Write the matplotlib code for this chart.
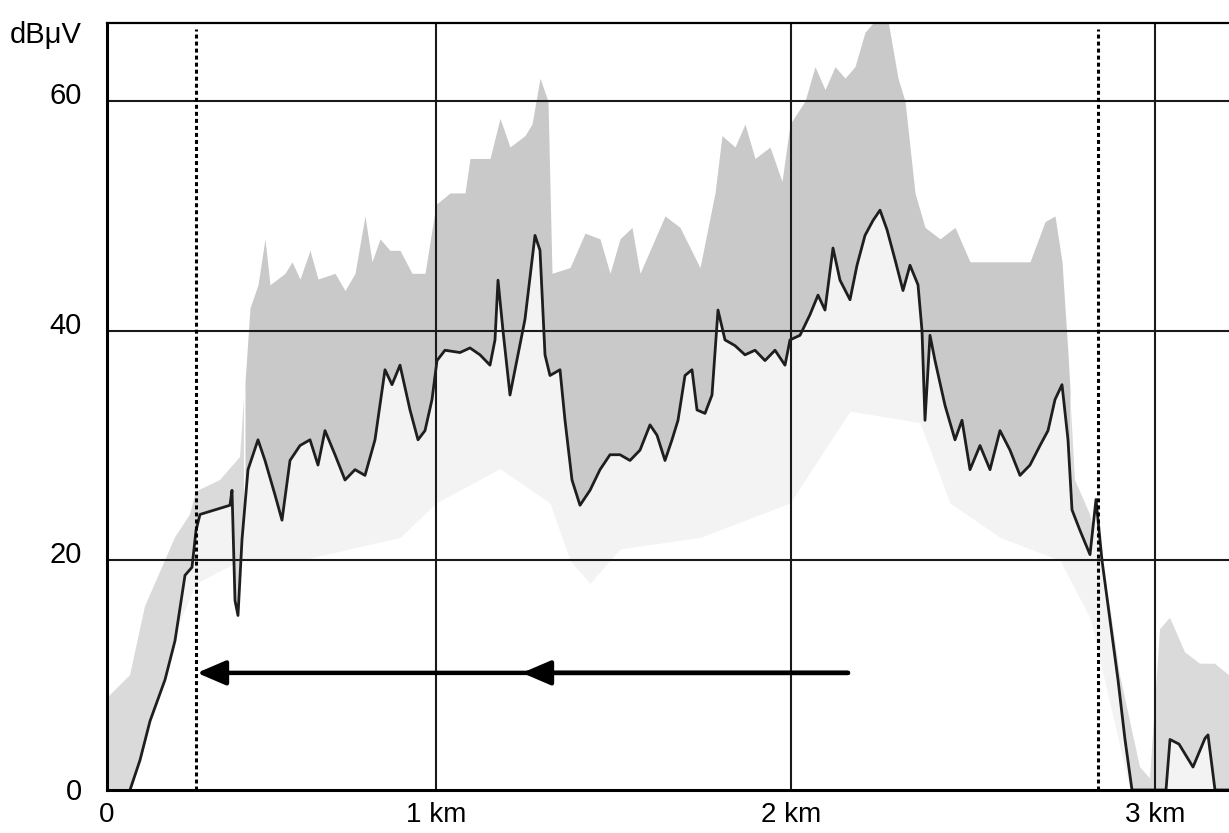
import numpy as np
import matplotlib.pyplot as plt
from matplotlib import transforms

plt.rcParams['font.family'] = ['Liberation Sans', 'DejaVu Sans']

# horizontal axis: measurement samples along the route, km marks placed on it
km_pos = [0, 329, 684, 1048]
km_labels = ["0", "1 km", "2 km", "3 km"]
db_ticks = [0, 20, 40, 60]

# median field strength (black trace): (sample, dBuV)
median = [(23, 0), (33, 2.6), (43, 6), (58, 9.6), (68, 13), (78, 18.7), (85, 19.4),
          (89, 22.6), (93, 24), (108, 24.4), (123, 24.8), (125, 26.1), (128, 16.5),
          (131, 15.2), (135, 21.8), (141, 27.9), (151, 30.5), (158, 28.7),
          (168, 25.7), (175, 23.5), (183, 28.7), (193, 30), (203, 30.5), (211, 28.3),
          (218, 31.3), (228, 29.2), (238, 27), (248, 27.9), (258, 27.4), (268, 30.5),
          (278, 36.6), (285, 35.3), (293, 37), (303, 33.1), (311, 30.5), (318, 31.3),
          (325, 34), (330, 37.4), (338, 38.3), (353, 38.1), (363, 38.5), (373, 37.9),
          (383, 37), (388, 39.2), (391, 44.4), (396, 40), (403, 34.4), (411, 37.9),
          (418, 41), (428, 48.3), (433, 47), (438, 37.9), (443, 36.1), (453, 36.6),
          (458, 32.2), (465, 27), (473, 24.8), (483, 26.1), (493, 27.9), (503, 29.2),
          (513, 29.2), (523, 28.7), (533, 29.6), (543, 31.8), (550, 30.9),
          (558, 28.7), (565, 30.5), (571, 32.2), (578, 36.1), (585, 36.6),
          (590, 33.1), (598, 32.8), (605, 34.4), (611, 41.8), (618, 39.2),
          (628, 38.7), (638, 37.9), (648, 38.3), (658, 37.4), (668, 38.3), (678, 37),
          (683, 39.2), (693, 39.6), (703, 41.4), (711, 43.1), (718, 41.8),
          (726, 47.2), (733, 44.4), (743, 42.7), (750, 45.7), (758, 48.3),
          (766, 49.6), (773, 50.5), (780, 48.8), (788, 46.2), (796, 43.5),
          (803, 45.7), (811, 44), (815, 40), (818, 32.2), (823, 39.6), (828, 37.4),
          (838, 33.5), (848, 30.5), (855, 32.2), (863, 27.9), (873, 30), (883, 27.9),
          (893, 31.3), (903, 29.6), (913, 27.4), (923, 28.3), (933, 30), (941, 31.3),
          (948, 34), (955, 35.3), (961, 30.5), (965, 24.4), (973, 22.6), (983, 20.5),
          (989, 25.3), (995, 20), (1003, 14.8), (1011, 9.6), (1018, 4.4), (1025, 0),
          (1056, 0), (1059, 0), (1063, 4.4), (1072, 4), (1086, 2), (1098, 4.5),
          (1101, 4.8), (1108, 0), (1122, 0)]

# upper envelope (grey band)
upper = [(0, 8), (23, 10), (38, 16), (53, 19), (68, 22), (83, 24), (89, 26),
         (113, 27), (133, 29), (143, 42), (151, 44), (158, 48), (163, 44), (178, 45),
         (185, 46), (193, 44.5), (203, 47), (211, 44.5), (228, 45), (238, 43.5),
         (248, 45), (258, 50), (265, 46), (273, 48), (283, 47), (293, 47), (305, 45),
         (318, 45), (329, 51), (343, 52), (358, 52), (363, 55), (383, 55),
         (393, 58.5), (403, 56), (418, 57), (425, 58), (433, 62), (441, 60),
         (445, 45), (463, 45.5), (478, 48.5), (493, 48), (503, 45), (513, 48),
         (525, 49), (533, 45), (548, 48), (558, 50), (573, 49), (593, 45.5),
         (608, 52), (615, 57), (628, 56), (638, 58), (648, 55), (663, 56), (675, 53),
         (683, 58), (698, 60), (708, 63), (718, 61), (728, 63), (738, 62), (748, 63),
         (758, 66), (768, 67), (781, 67), (791, 62), (798, 60), (808, 52), (818, 49),
         (833, 48), (848, 49), (863, 46), (878, 46), (893, 46), (908, 46), (923, 46),
         (938, 49.5), (948, 50), (955, 46), (961, 38), (968, 27), (983, 24),
         (993, 20), (1003, 16), (1013, 10), (1023, 6), (1033, 2), (1043, 1),
         (1053, 14), (1063, 15), (1078, 12), (1093, 11), (1108, 11), (1122, 10)]

# lower envelope (faint speckled area)
lower = [(0, 0), (89, 18), (133, 20), (193, 20), (293, 22), (329, 25), (393, 28),
         (443, 25), (463, 20), (483, 18), (513, 21), (593, 22), (683, 25),
         (743, 33), (813, 32), (843, 25), (893, 22), (953, 20), (983, 15),
         (1023, 0), (1122, 0)]

# dotted markers and arrows
marker_x = [89, 991]
arrow_db = 10.2
arrow_tail = 741
arrow_tips = [90, 415]

med_x, med_db = zip(*median)
up_x, up_db = zip(*upper)
lo_x, lo_db = zip(*lower)

fig = plt.figure(figsize=(12.29, 8.33), dpi=100)
ax = fig.add_axes([107/1229, 43/833, 1 - 107/1229, (790 - 23)/833])

grid_x = np.linspace(0, 1122, 1123)
med = np.interp(grid_x, med_x, med_db)
up = np.maximum(np.interp(grid_x, up_x, up_db), med)
lo = np.minimum(np.interp(grid_x, lo_x, lo_db), med)
solid = (grid_x >= 138) & (grid_x <= 963)

ax.fill_between(grid_x, lo, med, color='#f3f3f3', lw=0, zorder=1)
ax.fill_between(grid_x, med, up, where=~solid, color='#dadada', lw=0, zorder=1)
ax.fill_between(grid_x, med, up, where=solid, color='#c9c9c9', lw=0, zorder=1)
ax.plot(med_x, med_db, color='#1e1e1e', lw=2.0, zorder=3)

ax.set_xlim(0, 1122)
ax.set_ylim(0, 66.8)

for k in km_pos[1:]:
    ax.axvline(k, color='#1a1a1a', lw=1.5, zorder=2)
for d in db_ticks[1:]:
    ax.axhline(d, color='#1a1a1a', lw=1.5, zorder=2)

for mx in marker_x:
    ax.plot([mx, mx], [0, 66.3], color='black', lw=2.2,
            linestyle=(0, (1.3, 1.0)), zorder=4)

for tip in arrow_tips:
    ax.annotate('', xy=(tip, arrow_db), xytext=(arrow_tail, arrow_db),
                arrowprops=dict(arrowstyle='-|>,head_length=1.75,head_width=0.75',
                                color='black', lw=3.2, shrinkA=0, shrinkB=0),
                zorder=5)

ax.set_xticks(km_pos)
ax.set_xticklabels(km_labels)
ax.set_yticks(db_ticks)
ax.set_yticklabels([])
ax.tick_params(length=0, labelsize=20)
ax.tick_params(axis='x', pad=9)

# y labels sit just above their grid lines (0 centred on the axis)
ylab_tr = transforms.offset_copy(ax.get_yaxis_transform(), fig=fig,
                                 x=-25, y=-3, units='dots')
for d in db_ticks:
    ax.text(0, d if d else 0.1, str(d), transform=ylab_tr, ha='right',
            va='center' if d == 0 else 'baseline', fontsize=21)

ax.spines['right'].set_visible(False)
ax.spines['left'].set_linewidth(2.2)
ax.spines['bottom'].set_linewidth(2.2)
ax.spines['top'].set_linewidth(1.6)
for s in ax.spines.values():
    s.set_zorder(6)

fig.text(82/1229, 1 - 35/833, 'dBμV', ha='right', va='center', fontsize=21)

fig.savefig('out.png', dpi=100)
